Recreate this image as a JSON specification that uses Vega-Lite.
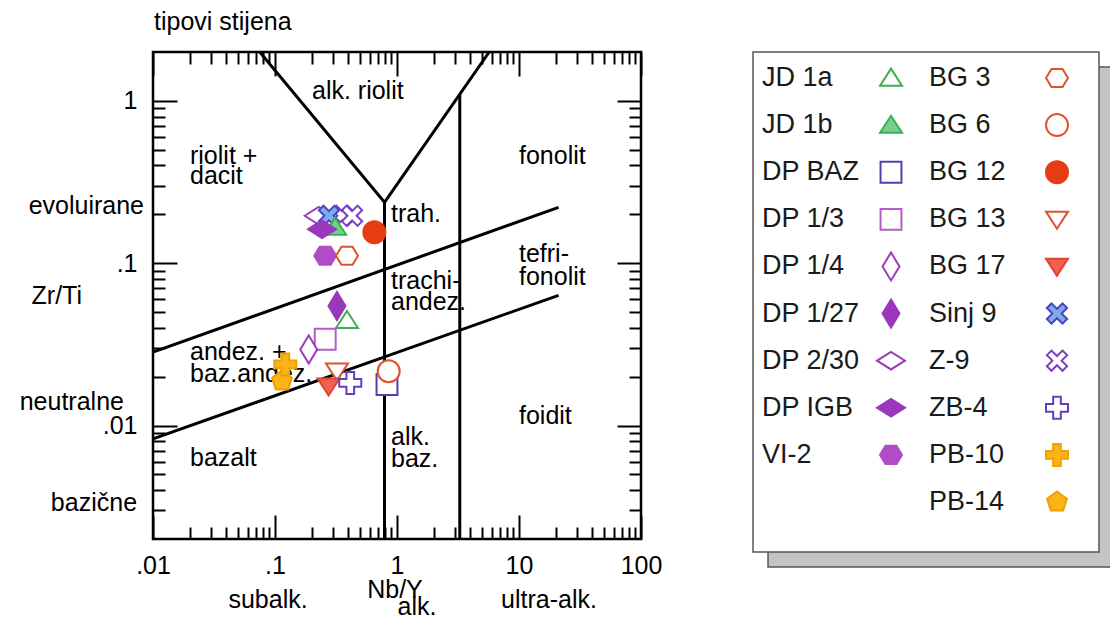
{
  "$schema": "https://vega.github.io/schema/vega-lite/v6.json",
  "background": "white",
  "padding": {"left": 18, "top": 8, "right": 0, "bottom": 0},
  "spacing": 88,
  "align": "each",
  "bounds": "full",
  "config": {
    "font": "Liberation Sans",
    "view": {"stroke": null},
    "axis": {"domain": false, "grid": false, "tickColor": "black", "tickWidth": 2, "labelFont": "Liberation Sans", "labelFontSize": 25, "labelColor": "black", "title": null, "labelFlush": false, "labelOverlap": false}
  },
  "datasets": {
    "samples": [
      {"sample": "DP 2/30", "nb_y": 0.228, "zr_ti": 0.196},
      {"sample": "Z-9", "nb_y": 0.354, "zr_ti": 0.196},
      {"sample": "Z-9", "nb_y": 0.428, "zr_ti": 0.196},
      {"sample": "Sinj 9", "nb_y": 0.277, "zr_ti": 0.196},
      {"sample": "JD 1b", "nb_y": 0.311, "zr_ti": 0.167},
      {"sample": "DP IGB", "nb_y": 0.243, "zr_ti": 0.162},
      {"sample": "BG 12", "nb_y": 0.652, "zr_ti": 0.155},
      {"sample": "VI-2", "nb_y": 0.258, "zr_ti": 0.111},
      {"sample": "BG 3", "nb_y": 0.389, "zr_ti": 0.111},
      {"sample": "DP 1/27", "nb_y": 0.322, "zr_ti": 0.0545},
      {"sample": "JD 1a", "nb_y": 0.389, "zr_ti": 0.0445},
      {"sample": "DP 1/3", "nb_y": 0.258, "zr_ti": 0.034},
      {"sample": "DP 1/4", "nb_y": 0.189, "zr_ti": 0.0294},
      {"sample": "PB-14", "nb_y": 0.114, "zr_ti": 0.0188},
      {"sample": "PB-10", "nb_y": 0.1215, "zr_ti": 0.0238},
      {"sample": "BG 13", "nb_y": 0.322, "zr_ti": 0.0216},
      {"sample": "BG 17", "nb_y": 0.275, "zr_ti": 0.0175},
      {"sample": "ZB-4", "nb_y": 0.414, "zr_ti": 0.0183},
      {"sample": "DP BAZ", "nb_y": 0.828, "zr_ti": 0.0179},
      {"sample": "BG 6", "nb_y": 0.855, "zr_ti": 0.0216}
    ],
    "boundaries": [
      {"seg": "A", "pt": 1, "nb_y": 0.075, "zr_ti": 2},
      {"seg": "A", "pt": 2, "nb_y": 0.79, "zr_ti": 0.237},
      {"seg": "A", "pt": 3, "nb_y": 0.79, "zr_ti": 0.002},
      {"seg": "B", "pt": 1, "nb_y": 0.79, "zr_ti": 0.237},
      {"seg": "B", "pt": 2, "nb_y": 5.7, "zr_ti": 2},
      {"seg": "C", "pt": 1, "nb_y": 3.27, "zr_ti": 0.002},
      {"seg": "C", "pt": 2, "nb_y": 3.27, "zr_ti": 1.1},
      {"seg": "D", "pt": 1, "nb_y": 0.01, "zr_ti": 0.0283},
      {"seg": "D", "pt": 2, "nb_y": 21.1, "zr_ti": 0.221},
      {"seg": "E", "pt": 1, "nb_y": 0.01, "zr_ti": 0.00828},
      {"seg": "E", "pt": 2, "nb_y": 21.1, "zr_ti": 0.0634}
    ],
    "regions": [
      {"label": "alk. riolit", "nb_y": 0.201, "zr_ti": 1.153},
      {"label": "riolit +", "nb_y": 0.0201, "zr_ti": 0.4575},
      {"label": "dacit", "nb_y": 0.0201, "zr_ti": 0.344},
      {"label": "fonolit", "nb_y": 10.0, "zr_ti": 0.4575},
      {"label": "trah.", "nb_y": 0.893, "zr_ti": 0.2007},
      {"label": "tefri-", "nb_y": 10.0, "zr_ti": 0.1137},
      {"label": "fonolit", "nb_y": 10.0, "zr_ti": 0.082},
      {"label": "trachi-", "nb_y": 0.893, "zr_ti": 0.0774},
      {"label": "andez.", "nb_y": 0.893, "zr_ti": 0.0574},
      {"label": "andez. +", "nb_y": 0.0201, "zr_ti": 0.0282},
      {"label": "baz.andez.", "nb_y": 0.0201, "zr_ti": 0.0209},
      {"label": "foidit", "nb_y": 10.0, "zr_ti": 0.01137},
      {"label": "alk.", "nb_y": 0.893, "zr_ti": 0.00844},
      {"label": "baz.", "nb_y": 0.893, "zr_ti": 0.00626},
      {"label": "bazalt", "nb_y": 0.0201, "zr_ti": 0.00634}
    ],
    "leftnotes": [
      {"label": "evoluirane", "nb_y": 0.00844, "zr_ti": 0.225},
      {"label": "Zr/Ti", "nb_y": 0.00262, "zr_ti": 0.0625},
      {"label": "neutralne", "nb_y": 0.00578, "zr_ti": 0.01387},
      {"label": "bazične", "nb_y": 0.0074, "zr_ti": 0.00335}
    ],
    "bottomnotes": [
      {"label": "subalk.", "nb_y": 0.0877, "zr_ti": 0.000843},
      {"label": "Nb/Y", "nb_y": 0.963, "zr_ti": 0.000972},
      {"label": "alk.", "nb_y": 1.46, "zr_ti": 0.000764},
      {"label": "ultra-alk.", "nb_y": 17.6, "zr_ti": 0.000843}
    ],
    "topnotes": [
      {"label": "tipovi stijena", "nb_y": 0.0102, "zr_ti": 3.07}
    ],
    "legend": [
      {"sample": "JD 1a", "col": 1, "row": 0},
      {"sample": "JD 1b", "col": 1, "row": 1},
      {"sample": "DP BAZ", "col": 1, "row": 2},
      {"sample": "DP 1/3", "col": 1, "row": 3},
      {"sample": "DP 1/4", "col": 1, "row": 4},
      {"sample": "DP 1/27", "col": 1, "row": 5},
      {"sample": "DP 2/30", "col": 1, "row": 6},
      {"sample": "DP IGB", "col": 1, "row": 7},
      {"sample": "VI-2", "col": 1, "row": 8},
      {"sample": "BG 3", "col": 2, "row": 0},
      {"sample": "BG 6", "col": 2, "row": 1},
      {"sample": "BG 12", "col": 2, "row": 2},
      {"sample": "BG 13", "col": 2, "row": 3},
      {"sample": "BG 17", "col": 2, "row": 4},
      {"sample": "Sinj 9", "col": 2, "row": 5},
      {"sample": "Z-9", "col": 2, "row": 6},
      {"sample": "ZB-4", "col": 2, "row": 7},
      {"sample": "PB-10", "col": 2, "row": 8},
      {"sample": "PB-14", "col": 2, "row": 9}
    ]
  },
  "hconcat": [
    {
      "width": 488,
      "height": 487,
      "view": {"stroke": "black", "strokeWidth": 2.5, "fill": "white"},
      "resolve": {"axis": {"x": "independent", "y": "independent"}},
      "layer": [
        {
          "data": {"name": "boundaries"},
          "mark": {"type": "line", "color": "black", "strokeWidth": 3, "clip": true},
          "encoding": {
            "x": {"field": "nb_y", "type": "quantitative", "scale": {"type": "log", "domain": [0.01, 100], "nice": false, "zero": false},
                  "axis": {"orient": "bottom", "values": [0.01, 0.1, 1, 10, 100], "tickSize": -24, "labelPadding": 38,
                           "labelExpr": "datum.value < 0.05 ? '.01' : datum.value < 0.5 ? '.1' : datum.value < 5 ? '1' : datum.value < 50 ? '10' : '100'"}},
            "y": {"field": "zr_ti", "type": "quantitative", "scale": {"type": "log", "domain": [0.002, 2], "nice": false, "zero": false},
                  "axis": {"orient": "left", "values": [0.01, 0.1, 1], "tickSize": -24, "labelPadding": 40,
                           "labelExpr": "datum.value < 0.05 ? '.01' : datum.value < 0.5 ? '.1' : '1'"}},
            "detail": {"field": "seg"},
            "order": {"field": "pt"}
          }
        },
        {
          "data": {"name": "regions"},
          "mark": {"type": "text", "align": "left", "baseline": "middle", "fontSize": 25, "color": "black"},
          "encoding": {
            "x": {"field": "nb_y", "type": "quantitative",
                  "axis": {"orient": "bottom", "values": [0.02,0.03,0.04,0.05,0.06,0.07,0.08,0.09,0.2,0.3,0.4,0.5,0.6,0.7,0.8,0.9,2,3,4,5,6,7,8,9,20,30,40,50,60,70,80,90], "tickSize": -12, "labels": false}},
            "y": {"field": "zr_ti", "type": "quantitative",
                  "axis": {"orient": "left", "values": [0.003,0.004,0.005,0.006,0.007,0.008,0.009,0.02,0.03,0.04,0.05,0.06,0.07,0.08,0.09,0.2,0.3,0.4,0.5,0.6,0.7,0.8,0.9], "tickSize": -12, "labels": false}},
            "text": {"field": "label"}
          }
        },
        {
          "data": {"name": "leftnotes"},
          "mark": {"type": "text", "align": "right", "baseline": "middle", "fontSize": 25, "color": "black"},
          "encoding": {
            "x": {"field": "nb_y", "type": "quantitative",
                  "axis": {"orient": "top", "values": [0.02,0.03,0.04,0.05,0.06,0.07,0.08,0.09,0.2,0.3,0.4,0.5,0.6,0.7,0.8,0.9,2,3,4,5,6,7,8,9,20,30,40,50,60,70,80,90], "tickSize": -12, "labels": false}},
            "y": {"field": "zr_ti", "type": "quantitative",
                  "axis": {"orient": "right", "values": [0.003,0.004,0.005,0.006,0.007,0.008,0.009,0.02,0.03,0.04,0.05,0.06,0.07,0.08,0.09,0.2,0.3,0.4,0.5,0.6,0.7,0.8,0.9], "tickSize": -12, "labels": false}},
            "text": {"field": "label"}
          }
        },
        {
          "data": {"name": "bottomnotes"},
          "mark": {"type": "text", "align": "center", "baseline": "middle", "fontSize": 25, "color": "black"},
          "encoding": {
            "x": {"field": "nb_y", "type": "quantitative", "axis": null},
            "y": {"field": "zr_ti", "type": "quantitative", "axis": null},
            "text": {"field": "label"}
          }
        },
        {
          "data": {"name": "topnotes"},
          "mark": {"type": "text", "align": "left", "baseline": "middle", "fontSize": 25, "color": "black"},
          "encoding": {
            "x": {"field": "nb_y", "type": "quantitative", "axis": null},
            "y": {"field": "zr_ti", "type": "quantitative", "axis": null},
            "text": {"field": "label"}
          }
        },
        {
          "data": {"name": "samples"},
          "mark": {"type": "point", "opacity": 1, "strokeWidth": 2, "size": 484},
          "encoding": {
            "x": {"field": "nb_y", "type": "quantitative",
                  "axis": {"orient": "top", "values": [0.01, 0.1, 1, 10, 100], "tickSize": -24, "labels": false}},
            "y": {"field": "zr_ti", "type": "quantitative",
                  "axis": {"orient": "right", "values": [0.01, 0.1, 1], "tickSize": -24, "labels": false}},
            "shape": {"field": "sample", "type": "nominal", "legend": null,
                      "scale": {"domain": ["JD 1a","JD 1b","DP BAZ","DP 1/3","DP 1/4","DP 1/27","DP 2/30","DP IGB","VI-2","BG 3","BG 6","BG 12","BG 13","BG 17","Sinj 9","Z-9","ZB-4","PB-10","PB-14"],
                                "range": ["M0,-0.85L1,0.7L-1,0.7Z","M0,-0.85L1,0.7L-1,0.7Z","M-0.95,-0.95L0.95,-0.95L0.95,0.95L-0.95,0.95Z","M-0.95,-0.95L0.95,-0.95L0.95,0.95L-0.95,0.95Z","M0,-1.27L0.77,0L0,1.27L-0.77,0Z","M0,-1.27L0.77,0L0,1.27L-0.77,0Z","M-1.27,0L0,-0.8L1.27,0L0,0.8Z","M-1.27,0L0,-0.8L1.27,0L0,0.8Z","M-1,0L-0.5,-0.82L0.5,-0.82L1,0L0.5,0.82L-0.5,0.82Z","M-1,0L-0.5,-0.82L0.5,-0.82L1,0L0.5,0.82L-0.5,0.82Z","circle","circle","M0,0.85L1,-0.7L-1,-0.7Z","M0,0.85L1,-0.7L-1,-0.7Z","M0.5,-0.92L0.92,-0.5L0.42,0L0.92,0.5L0.5,0.92L0,0.42L-0.5,0.92L-0.92,0.5L-0.42,0L-0.92,-0.5L-0.5,-0.92L0,-0.42Z","M0.5,-0.92L0.92,-0.5L0.42,0L0.92,0.5L0.5,0.92L0,0.42L-0.5,0.92L-0.92,0.5L-0.42,0L-0.92,-0.5L-0.5,-0.92L0,-0.42Z","M-0.35,-1L0.35,-1L0.35,-0.35L1,-0.35L1,0.35L0.35,0.35L0.35,1L-0.35,1L-0.35,0.35L-1,0.35L-1,-0.35L-0.35,-0.35Z","M-0.35,-1L0.35,-1L0.35,-0.35L1,-0.35L1,0.35L0.35,0.35L0.35,1L-0.35,1L-0.35,0.35L-1,0.35L-1,-0.35L-0.35,-0.35Z","M0,-0.95L0.9,-0.29L0.56,0.77L-0.56,0.77L-0.9,-0.29Z"]}},
            "fill": {"field": "sample", "type": "nominal", "legend": null,
                     "scale": {"domain": ["JD 1a","JD 1b","DP BAZ","DP 1/3","DP 1/4","DP 1/27","DP 2/30","DP IGB","VI-2","BG 3","BG 6","BG 12","BG 13","BG 17","Sinj 9","Z-9","ZB-4","PB-10","PB-14"],
                               "range": ["white","#74d08c","white","white","white","#9b37bb","white","#9b37bb","#b04cc5","white","white","#e63c14","white","#f2604e","#80aaf0","white","white","#fbb418","#fbb418"]}},
            "stroke": {"field": "sample", "type": "nominal", "legend": null,
                       "scale": {"domain": ["JD 1a","JD 1b","DP BAZ","DP 1/3","DP 1/4","DP 1/27","DP 2/30","DP IGB","VI-2","BG 3","BG 6","BG 12","BG 13","BG 17","Sinj 9","Z-9","ZB-4","PB-10","PB-14"],
                                 "range": ["#3cb050","#3cb050","#5a3dac","#b55cc8","#9a3dbd","#9b37bb","#9a3dbd","#9b37bb","#b04cc5","#e0522a","#e0522a","#e63c14","#e0522a","#e0452e","#4a46c0","#7a40c0","#6040c0","#f0a000","#eba000"]}}
          }
        }
      ]
    },
    {
      "width": 346,
      "height": 500,
      "view": {"stroke": null},
      "resolve": {"scale": {"x": "independent", "y": "independent"}},
      "layer": [
        {
          "data": {"values": [{}]},
          "mark": {"type": "rect", "fill": "#c4c4c4", "stroke": "#555555", "strokeWidth": 1.5},
          "encoding": {
            "x": {"datum": 0.0434, "type": "quantitative", "scale": {"domain": [0, 1], "nice": false, "zero": false}, "axis": null},
            "x2": {"datum": 1.0434},
            "y": {"datum": 0.03, "type": "quantitative", "scale": {"domain": [0, 1], "nice": false, "zero": false, "reverse": true}, "axis": null},
            "y2": {"datum": 1.03}
          }
        },
        {
          "data": {"values": [{}]},
          "mark": {"type": "rect", "fill": "white", "stroke": "#555555", "strokeWidth": 1.5},
          "encoding": {
            "x": {"datum": 0, "type": "quantitative", "scale": {"domain": [0, 1], "nice": false, "zero": false}, "axis": null},
            "x2": {"datum": 1},
            "y": {"datum": 0, "type": "quantitative", "scale": {"domain": [0, 1], "nice": false, "zero": false, "reverse": true}, "axis": null},
            "y2": {"datum": 1}
          }
        },
        {
          "data": {"name": "legend"},
          "mark": {"type": "text", "align": "left", "baseline": "middle", "fontSize": 27, "color": "#1a1a1a"},
          "encoding": {
            "x": {"field": "col", "type": "ordinal", "scale": {"type": "point", "domain": [1, 2], "range": [9, 176], "padding": 0}, "axis": null},
            "y": {"field": "row", "type": "ordinal", "scale": {"type": "point", "domain": [0,1,2,3,4,5,6,7,8,9], "range": [26, 450], "padding": 0}, "axis": null},
            "text": {"field": "sample"}
          }
        },
        {
          "data": {"name": "legend"},
          "mark": {"type": "point", "opacity": 1, "strokeWidth": 2, "size": 484},
          "encoding": {
            "x": {"field": "col", "type": "ordinal", "scale": {"type": "point", "domain": [1, 2], "range": [138, 304], "padding": 0}, "axis": null},
            "y": {"field": "row", "type": "ordinal", "scale": {"type": "point", "domain": [0,1,2,3,4,5,6,7,8,9], "range": [26, 450], "padding": 0}, "axis": null},
            "shape": {"field": "sample", "type": "nominal", "legend": null},
            "fill": {"field": "sample", "type": "nominal", "legend": null},
            "stroke": {"field": "sample", "type": "nominal", "legend": null}
          }
        }
      ]
    }
  ]
}
